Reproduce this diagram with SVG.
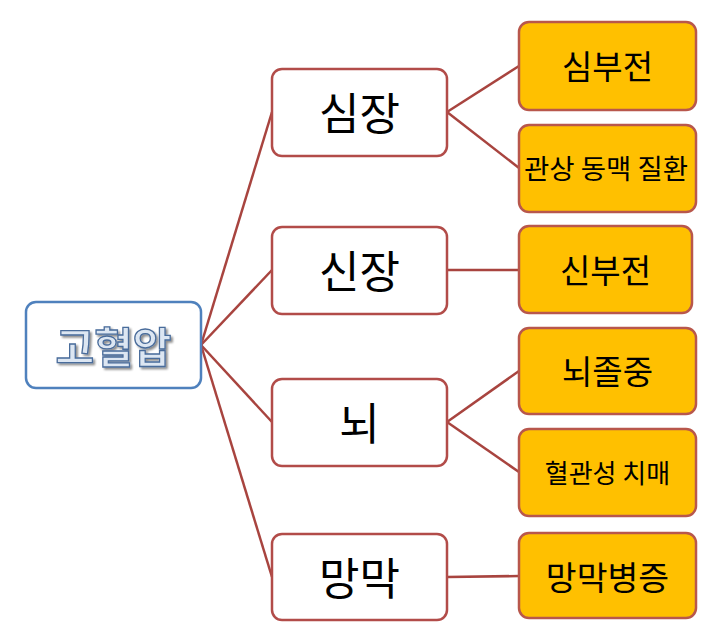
<svg xmlns="http://www.w3.org/2000/svg" width="721" height="636" viewBox="0 0 721 636">
<defs>
<filter id="sh" x="-20%" y="-20%" width="140%" height="140%">
<feGaussianBlur in="SourceAlpha" stdDeviation="1.2"/>
<feOffset dx="1.5" dy="2" result="b"/>
<feComponentTransfer><feFuncA type="linear" slope="0.45"/></feComponentTransfer>
<feMerge><feMergeNode/><feMergeNode in="SourceGraphic"/></feMerge>
</filter>
</defs>
<style>
text{font-family:"Noto Sans CJK KR","Malgun Gothic",sans-serif;text-anchor:middle;dominant-baseline:central;fill:#000}
.root rect{fill:#fff;stroke:#4f81bd;stroke-width:2.5}
.root text{fill:#dce6f2;stroke:#4a6c9b;stroke-width:1.3;font-size:42px;font-weight:bold}
.mid rect{fill:#fff;stroke:#b24c49;stroke-width:2.5}
.mid text{font-size:44px}
.leaf rect{fill:#ffc000;stroke:#b8574c;stroke-width:2.5}
#connectors line{stroke:#a8443f;stroke-width:2.5}
</style>
<rect width="721" height="636" fill="#fff"/>
<g id="connectors">
<line x1="201" y1="345" x2="272" y2="112"/>
<line x1="201" y1="345" x2="272" y2="270"/>
<line x1="201" y1="345" x2="272" y2="422"/>
<line x1="201" y1="345" x2="272" y2="577"/>
<line x1="447" y1="112" x2="519" y2="66"/>
<line x1="447" y1="112" x2="519" y2="168"/>
<line x1="447" y1="270" x2="519" y2="270"/>
<line x1="447" y1="422" x2="519" y2="371"/>
<line x1="447" y1="422" x2="519" y2="472"/>
<line x1="447" y1="577" x2="519" y2="576"/>
</g>
<g id="n-root" class="root">
<rect x="26" y="302" width="175" height="86" rx="10"/>
<text x="113.5" y="344" filter="url(#sh)">고혈압</text>
</g>
<g id="n-heart" class="mid">
<rect x="272" y="69" width="175" height="87" rx="10"/>
<text x="359.5" y="111">심장</text>
</g>
<g id="n-kidney" class="mid">
<rect x="272" y="227" width="175" height="87" rx="10"/>
<text x="359.5" y="269">신장</text>
</g>
<g id="n-brain" class="mid">
<rect x="272" y="379" width="175" height="87" rx="10"/>
<text x="359.5" y="421">뇌</text>
</g>
<g id="n-retina" class="mid">
<rect x="272" y="534" width="175" height="86" rx="10"/>
<text x="359.5" y="576">망막</text>
</g>
<g id="n-hf" class="leaf">
<rect x="519" y="22" width="177" height="88" rx="10"/>
<text x="607.5" y="65" font-size="33">심부전</text>
</g>
<g id="n-cad" class="leaf">
<rect x="519" y="125" width="177" height="87" rx="10"/>
<text x="606" y="167" font-size="27.5">관상 동맥 질환</text>
</g>
<g id="n-rf" class="leaf">
<rect x="519" y="226" width="173" height="87" rx="10"/>
<text x="605.5" y="269" font-size="33">신부전</text>
</g>
<g id="n-stroke" class="leaf">
<rect x="519" y="328" width="177" height="86" rx="10"/>
<text x="607.5" y="370" font-size="33">뇌졸중</text>
</g>
<g id="n-vd" class="leaf">
<rect x="519" y="429" width="177" height="87" rx="10"/>
<text x="607.5" y="471" font-size="26">혈관성 치매</text>
</g>
<g id="n-ret" class="leaf">
<rect x="519" y="533" width="177" height="85" rx="10"/>
<text x="607.5" y="575" font-size="33.5">망막병증</text>
</g>
</svg>
